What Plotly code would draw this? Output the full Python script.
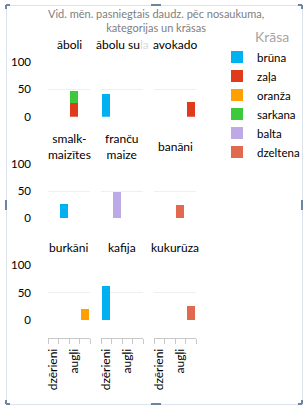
import plotly.graph_objects as go

# ---------------- data ----------------
panels = ["āboli", "ābolu sula", "avokado",
          "smalkmaizītes", "franču maize", "banāni",
          "burkāni", "kafija", "kukurūza"]
panel_titles = ["āboli", "ābolu su<span style='color:#d9d9d9'>la</span>", "avokado",
                "smalk-<br>maizītes", "franču<br>maize", "banāni",
                "burkāni", "kafija", "kukurūza"]
categories = ["dzērieni", "maize", "augļi", "dārzeņi"]
category_labels = ["dzērieni", "", "augļi", ""]
color_names = ["brūna", "zaļa", "oranža", "sarkana", "balta", "dzeltena"]
color_hex = ["#00B0F0", "#E03A1C", "#FF9F00", "#3CC93C", "#BDA9E6", "#E0694F"]

rec_panel = ["āboli", "āboli", "ābolu sula", "avokado", "smalkmaizītes",
             "franču maize", "banāni", "burkāni", "kafija", "kukurūza"]
rec_category = ["augļi", "augļi", "dzērieni", "dārzeņi", "maize",
                "maize", "augļi", "dārzeņi", "dzērieni", "dārzeņi"]
rec_color = ["zaļa", "sarkana", "brūna", "zaļa", "brūna",
             "balta", "dzeltena", "oranža", "brūna", "dzeltena"]
rec_value = [25, 22, 41.5, 26.5, 26, 48, 24, 20.5, 62, 26]

y_ticks = [0, 50, 100]

# ---------------- layout geometry (pixels) ----------------
W, H = 308, 412
FONT = "Lato"
col_px = [(48, 90), (101, 143), (154, 196)]
row_px = [(61.7, 116.7), (163.7, 218.3), (265.3, 320.0)]
title_y = [45, 147, 248]
xaxis_y = 338


def fx(p):
    return p / W


def fy(p):
    return 1 - p / H


fig = go.Figure()

seen = set()
for ci, cname in enumerate(color_names):
    for pi, pname in enumerate(panels):
        xs, ys = [], []
        for p, c, col, v in zip(rec_panel, rec_category, rec_color, rec_value):
            if p == pname and col == cname:
                xs.append(c)
                ys.append(v)
        if not xs:
            continue
        k = pi + 1
        fig.add_trace(go.Bar(
            x=xs, y=ys, name=cname, legendgroup=cname,
            showlegend=cname not in seen, legendrank=ci,
            marker=dict(color=color_hex[ci], line=dict(width=0)),
            xaxis="x" if k == 1 else f"x{k}",
            yaxis="y" if k == 1 else f"y{k}",
        ))
        seen.add(cname)

layout = {}
annotations = []
for pi in range(9):
    r, c = divmod(pi, 3)
    k = pi + 1
    xa = "xaxis" if k == 1 else f"xaxis{k}"
    ya = "yaxis" if k == 1 else f"yaxis{k}"
    x0, x1 = col_px[c]
    top, bot = row_px[r]
    xdict = dict(domain=[fx(x0), fx(x1)], type="category",
                 categoryorder="array", categoryarray=categories,
                 range=[-0.5, len(categories) - 0.5], fixedrange=True,
                 automargin=False)
    if r == 2:
        xdict.update(anchor="free", position=fy(xaxis_y), showline=True,
                     linecolor="#c8c8c8", linewidth=1, ticks="outside",
                     tickson="boundaries", ticklen=5, tickcolor="#c8c8c8",
                     tickvals=categories, ticktext=category_labels,
                     tickangle=-90, ticklabelstandoff=5,
                     tickfont=dict(family=FONT, size=12, color="#000"),
                     showgrid=False)
    else:
        xdict.update(anchor="y" if k == 1 else f"y{k}", showline=False,
                     ticks="", showticklabels=False, showgrid=False)
    layout[xa] = xdict
    layout[ya] = dict(domain=[fy(bot), fy(top)], range=[0, 100],
                      anchor="x" if k == 1 else f"x{k}",
                      tickvals=y_ticks, showticklabels=(c == 0),
                      tickfont=dict(family=FONT, size=11.5, color="#000"),
                      ticklabelstandoff=16, automargin=False,
                      showgrid=True, gridcolor="#efefef", gridwidth=1,
                      zeroline=False, showline=False, ticks="", fixedrange=True)
    annotations.append(dict(
        text=panel_titles[pi], x=fx((x0 + x1) / 2), y=fy(title_y[r]),
        xref="paper", yref="paper", xanchor="center", yanchor="middle",
        showarrow=False, font=dict(family=FONT, size=12, color="#000")))

annotations.append(dict(
    text="Vid. mēn. pasniegtais daudz. pēc nosaukuma,<br>kategorijas un krāsas",
    x=fx(156), y=fy(21), xref="paper", yref="paper", xanchor="center",
    yanchor="middle", showarrow=False,
    font=dict(family=FONT, size=11, color="#808080")))
annotations.append(dict(
    text="Krāsa", x=fx(272), y=fy(36.5), xref="paper", yref="paper",
    xanchor="center", yanchor="middle", showarrow=False,
    font=dict(family=FONT, size=14, color="#a6a6a6")))

# frame and handles
shapes = [dict(type="rect", xref="paper", yref="paper",
               x0=fx(6.5), x1=fx(302.5), y0=fy(404.5), y1=fy(5.5),
               line=dict(color="#dbe3ec", width=1))]
hc = "#6d84a3"
for (xa_, ya_, xb_, yb_) in [
        (6, 5, 10, 5), (6, 5, 6, 9),
        (302, 404, 298, 404), (302, 404, 302, 400),
        (6, 404, 6, 400), (6, 404, 10, 404),
        (302, 5, 298, 5), (302, 5, 302, 9),
        (151, 5, 161, 5), (151, 404, 161, 404),
        (6, 200, 6, 210), (302, 200, 302, 210)]:
    shapes.append(dict(type="line", xref="paper", yref="paper",
                       x0=fx(xa_), y0=fy(ya_), x1=fx(xb_), y1=fy(yb_),
                       line=dict(color=hc, width=2)))

fig.update_layout(
    **layout,
    width=W, height=H, autosize=False,
    margin=dict(l=0, r=0, t=0, b=0, pad=0),
    paper_bgcolor="white", plot_bgcolor="white",
    barmode="stack", bargap=0.22,
    annotations=annotations, shapes=shapes,
    font=dict(family=FONT, color="#000"),
    legend=dict(x=fx(217), y=fy(42.5), xanchor="left", yanchor="top",
                font=dict(family=FONT, size=11.5, color="#000"),
                tracegroupgap=0, itemwidth=30, bgcolor="rgba(0,0,0,0)"),
)

fig.write_html("out.html", config={"displayModeBar": False})
